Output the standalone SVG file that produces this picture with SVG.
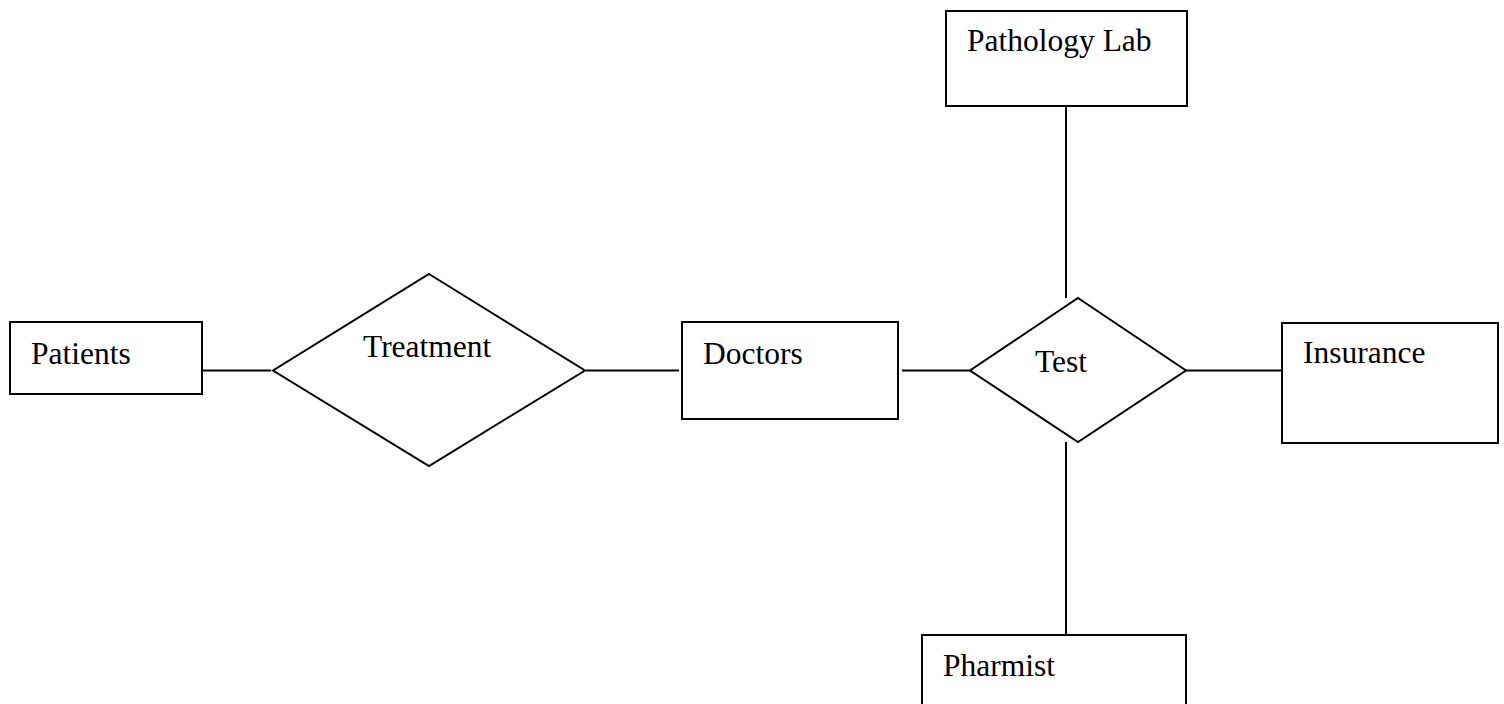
<svg xmlns="http://www.w3.org/2000/svg" width="1504" height="704" viewBox="0 0 1504 704">
<style>
.box{fill:#fff;stroke:#000;stroke-width:2}
.dia{fill:#fff;stroke:#000;stroke-width:2;stroke-linejoin:miter}
.lbl{font-family:"Liberation Serif","Times New Roman",serif;font-size:31.5px;fill:#000}
.conn line{stroke:#000;stroke-width:2}
</style>
<rect width="1504" height="704" fill="#fff"/>
<g id="connectors" class="conn">
<line x1="202" y1="370.5" x2="271" y2="370.5"/>
<line x1="586" y1="370.5" x2="679" y2="370.5"/>
<line x1="902" y1="370.5" x2="970" y2="370.5"/>
<line x1="1186" y1="370.5" x2="1282" y2="370.5"/>
<line x1="1066" y1="106" x2="1066" y2="298"/>
<line x1="1066" y1="442" x2="1066" y2="635"/>
</g>
<g id="patients">
<rect class="box" x="10" y="322" width="192" height="72"/>
<text class="lbl" x="31" y="364">Patients</text>
</g>
<g id="treatment">
<polygon class="dia" points="429,274 585,370.5 429,466 273,370.5"/>
<text class="lbl" x="363" y="357">Treatment</text>
</g>
<g id="doctors">
<rect class="box" x="682" y="322" width="216" height="97"/>
<text class="lbl" x="703" y="364">Doctors</text>
</g>
<g id="test">
<polygon class="dia" points="1078,298 1186,370.5 1078,442 970,370.5"/>
<text class="lbl" x="1035" y="371.5">Test</text>
</g>
<g id="pathology-lab">
<rect class="box" x="946" y="11" width="241" height="95"/>
<text class="lbl" x="967" y="51">Pathology Lab</text>
</g>
<g id="insurance">
<rect class="box" x="1282" y="323" width="216" height="120"/>
<text class="lbl" x="1303" y="363">Insurance</text>
</g>
<g id="pharmist">
<rect class="box" x="922" y="635" width="264" height="80"/>
<text class="lbl" x="943" y="676">Pharmist</text>
</g>
</svg>
